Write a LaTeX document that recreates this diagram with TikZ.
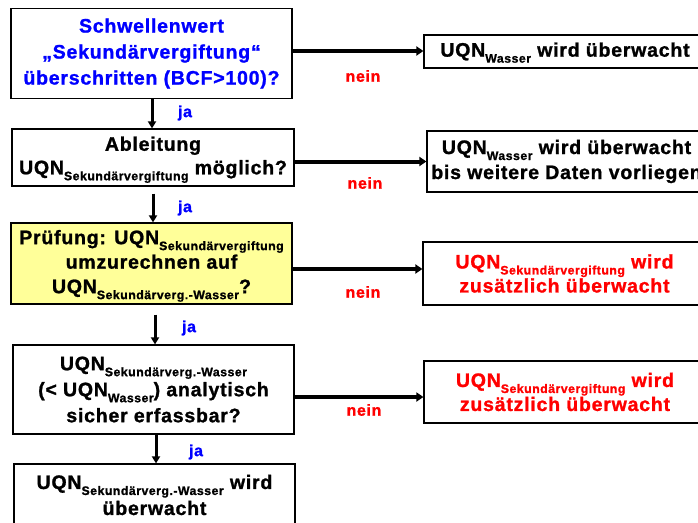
\documentclass[tikz,border=0pt]{standalone}
\usepackage{fontspec}
\setmainfont{Liberation Sans}[LetterSpace=4, BoldFeatures={FakeBold=1.2}]
\usetikzlibrary{arrows.meta,calc}
\definecolor{qblue}{RGB}{0,0,255}
\definecolor{qred}{RGB}{255,0,0}
\definecolor{qyellow}{RGB}{255,255,153}
\newcommand\lowsub[1]{\raisebox{-6pt}[0pt][0pt]{\fontsize{12.3}{14}\selectfont #1}}
\tikzset{
  box/.style={draw=black, line width=1.2pt, inner sep=0pt, align=center,
    font=\fontsize{19.5}{26}\selectfont\bfseries},
  down/.style={line width=3pt, -{Triangle[length=7pt,width=8pt]}},
  side/.style={line width=4pt, -{Triangle[length=7pt,width=9pt]}},
  jalabel/.style={text=qblue, font=\fontsize{16}{18}\selectfont\bfseries, inner sep=0pt},
  neinlabel/.style={text=qred, font=\fontsize{16}{18}\selectfont\bfseries, inner sep=0pt}
}
\begin{document}
\begin{tikzpicture}[x=1pt,y=-1pt]
\useasboundingbox (0,0) rectangle (698,522);
\clip (0,0) rectangle (698,522);
% left column
\node[box, text=qblue, minimum width=281pt, minimum height=90pt] (b1) at (151.5,53.5)
  {Schwellenwert\\„Sekundärvergiftung“\\überschritten (BCF>100)?};
\node[box, font=\fontsize{19.5}{23.5}\selectfont\bfseries, minimum width=282pt, minimum height=57pt] (b2) at (153,157.5)
  {Ableitung\\UQN\lowsub{Sekundärvergiftung} möglich?};
\node[box, font=\fontsize{19.5}{24.5}\selectfont\bfseries, fill=qyellow, minimum width=281pt, minimum height=81pt] (b3) at (151.5,263.5)
  {Prüfung: UQN\lowsub{Sekundärvergiftung}\\umzurechnen auf\\UQN\lowsub{Sekundärverg.-Wasser}?};
\node[box, minimum width=281pt, minimum height=89pt] (b4) at (153.5,389.5)
  {UQN\lowsub{Sekundärverg.-Wasser}\\(< UQN\lowsub{Wasser}) analytisch\\sicher erfassbar?};
\node[box, minimum width=281pt, minimum height=62pt] (b5) at (154.5,495)
  {UQN\lowsub{Sekundärverg.-Wasser} wird\\überwacht};
% right column
\node[box, minimum width=282pt, minimum height=33pt] (r1) at (565,51.5)
  {UQN\lowsub{Wasser} wird überwacht};
\node[box, font=\fontsize{19.5}{25}\selectfont\bfseries, minimum width=279pt, minimum height=61pt] (r2) at (566.5,161.5)
  {UQN\lowsub{Wasser} wird überwacht\\bis weitere Daten vorliegen};
\node[box, font=\fontsize{19.5}{24}\selectfont\bfseries, text=qred, minimum width=283pt, minimum height=63pt] (r3) at (564.5,273.5)
  {UQN\lowsub{Sekundärvergiftung} wird\\zusätzlich überwacht};
\node[box, font=\fontsize{19.5}{24}\selectfont\bfseries, text=qred, minimum width=282pt, minimum height=62pt] (r4) at (565,392)
  {UQN\lowsub{Sekundärvergiftung} wird\\zusätzlich überwacht};
% vertical arrows
\draw[down] ([xshift=0.5pt]b1.south) -- ([xshift=0.5pt]b1.south |- b2.north);
\draw[down] ([yshift=-7pt]b2.south) -- (b2.south |- b3.north);
\draw[down] ([xshift=3.5pt,yshift=-10pt]b3.south) -- ([xshift=3.5pt]b3.south |- b4.north);
\draw[down] ([xshift=2.5pt]b4.south) -- ([xshift=2.5pt]b4.south |- b5.north);
% horizontal arrows
\draw[side] ([yshift=2.5pt]b1.east) -- ([yshift=2.5pt]b1.east -| r1.west);
\draw[side] (b2.east |- r2.west) -- (r2.west);
\draw[side] ([yshift=-5.5pt]b3.east) -- ([yshift=-5.5pt]b3.east -| r3.west);
\draw[side] ([yshift=-5pt]r4.west -| b4.east) -- ([yshift=-5pt]r4.west);
% labels
\node[jalabel] (ja1) at (185,113) {ja};
\node[jalabel] (ja2) at (185,208) {ja};
\node[jalabel] (ja3) at (189,328) {ja};
\node[jalabel] (ja4) at (196,452) {ja};
\node[neinlabel] (n1) at (363,76) {nein};
\node[neinlabel] (n2) at (365,183) {nein};
\node[neinlabel] (n3) at (363,292) {nein};
\node[neinlabel] (n4) at (364,410) {nein};
\end{tikzpicture}
\end{document}
